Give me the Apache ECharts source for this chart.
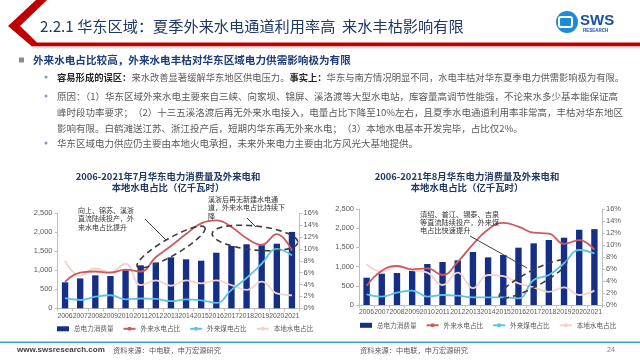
<!DOCTYPE html>
<html><head><meta charset="utf-8">
<script src="https://cdn.jsdelivr.net/npm/echarts@6.0.0/dist/echarts.min.js"></script>
<style>html,body{margin:0;padding:0;background:#fff}#c{width:640px;height:360px}</style>
</head><body><div id="c"></div>
<script>
const years = ['2006','2007','2008','2009','2010','2011','2012','2013','2014','2015','2016','2017','2018','2019','2020','2021'];
const seriesNames = ['总电力消费量','外来水电占比','外来煤电占比','本地水电占比'];
// July
const julTotal      = [684, 785, 868, 850, 1000, 1131, 1205, 1342, 1289, 1253, 1463, 1640, 1685, 1660, 1700, 2010];
const julHydroOut   = [4.45, 6.0, 6.2, 6.0, 6.5, 6.2, 8.6, 10.5, 12.5, 14.3, 14.8, 13.7, 11.8, 10.7, 12.5, 9.7];
const julCoalOut    = [1.7, 1.4, 1.95, 2.2, 1.5, 1.65, 1.6, 1.2, 1.5, 1.35, 0.9, 3.1, 5.1, 7.5, 10.0, 8.9];
const julHydroLocal = [8.0, 5.5, 6.7, 6.1, 7.5, 3.9, 4.7, 3.8, 4.7, 4.2, 4.7, 3.9, 3.1, 4.5, 2.5, 2.2];
// August
const augTotal      = [711, 815, 833, 885, 1068, 1120, 1163, 1380, 1241, 1302, 1493, 1606, 1693, 1753, 1960, 1975];
const augHydroOut   = [3.2, 5.7, 6.5, 5.95, 6.1, 5.0, 7.2, 10.1, 12.6, 13.7, 13.05, 12.05, 11.9, 10.2, 10.8, 9.2];
const augCoalOut    = [1.78, 1.4, 2.05, 2.4, 1.4, 1.67, 1.55, 1.28, 1.28, 1.28, 1.1, 4.17, 5.0, 6.95, 9.17, 8.6];
const augHydroLocal = [6.8, 5.55, 6.5, 5.8, 5.4, 3.33, 5.4, 2.8, 5.0, 4.83, 3.6, 2.95, 2.2, 2.95, 1.67, 2.4];

const CJK = '"Noto Sans CJK SC", sans-serif';
const NUM = '"Liberation Sans", Arial, sans-serif';
const C_BAR = '#152e86', C_RED = '#cf5a5e', C_CYAN = '#5cc3e6', C_PINK = '#f2d2cb';
const axisGray = '#bfbfbf', lblGray = '#595959';

function ell(cx, cy, a, b, deg) {
  const r = deg * Math.PI / 180, pts = [];
  for (let i = 0; i < 90; i++) {
    const t = i / 90 * 2 * Math.PI, x = a * Math.cos(t), y = b * Math.sin(t);
    pts.push([cx + x * Math.cos(r) - y * Math.sin(r), cy + x * Math.sin(r) + y * Math.cos(r)]);
  }
  return pts;
}

function xAx(gi) {
  return { type: 'category', gridIndex: gi, data: years,
    axisLine: { lineStyle: { color: axisGray } },
    axisTick: { show: true, length: 3, lineStyle: { color: axisGray } },
    axisLabel: { interval: 0, fontSize: 6.8, color: lblGray, margin: 4, fontFamily: NUM } };
}
function yAx(gi, right) {
  const base = { type: 'value', gridIndex: gi, min: 0,
    axisLine: { show: true, lineStyle: { color: axisGray } },
    axisTick: { show: true, length: 3, lineStyle: { color: axisGray } },
    splitLine: { show: false },
    axisLabel: { fontSize: 7.5, color: lblGray, margin: right ? 4 : 5, fontFamily: NUM } };
  if (right) { base.position = 'right'; base.max = 16; base.interval = 2; base.axisLabel.formatter = '{value}%'; }
  else { base.max = 2500; base.interval = 500; }
  return base;
}
function lineS(name, data, color, xi, yi, z) {
  return { name, type: 'line', data, xAxisIndex: xi, yAxisIndex: yi, smooth: 0.45, symbol: 'none', z,
    lineStyle: { color, width: 1.8 }, itemStyle: { color } };
}
function legendAt(left, top) {
  return { left, top, padding: 0, itemWidth: 12, itemHeight: 5, itemGap: 9,
    textStyle: { fontSize: 6.6, color: lblGray, fontFamily: CJK },
    data: [{ name: seriesNames[0], icon: 'rect' }, seriesNames[1], seriesNames[2], seriesNames[3]] };
}

const dash = { fill: 'none', stroke: '#3d3d3d', lineWidth: 1.6, lineDash: [6, 4] };
const txt = (text, x, y, font, fill, align) => ({ type: 'text', z: 100,
  style: { text, x, y, font, fill, textAlign: align || 'left', textVerticalAlign: 'middle' } });

const graphics = [
  // header
  { type: 'polygon', z: 90, shape: { points: [[36,0],[47,0],[20,26],[37,42.5],[640,42.5],[640,46.5],[32,46.5],[8,26]] }, style: { fill: '#c00000' } },
  { type: 'rect', z: 90, shape: { x: 32, y: 46.5, width: 608, height: 2 }, style: { fill: '#e3e3e3' } },
  txt('2.2.1 华东区域：夏季外来水电通道利用率高  来水丰枯影响有限', 40, 26, '15.2px ' + CJK, '#1f3864'),
  // logo
  { type: 'circle', z: 100, shape: { cx: 567, cy: 22, r: 11 }, style: { fill: '#1f8ad6' } },
  { type: 'rect', z: 101, shape: { x: 559, y: 17, width: 13, height: 10, r: 2 }, style: { fill: 'none', stroke: '#fff', lineWidth: 2 } },
  txt('SWS', 580, 21, 'bold 15px ' + NUM, '#1b4fa0'),
  txt('RESEARCH', 583, 31, 'bold 4.5px ' + NUM, '#1b4fa0'),
  // bullets
  { type: 'rect', z: 100, shape: { x: 19, y: 57.5, width: 5, height: 5 }, style: { fill: '#8c8c8c' } },
  txt('外来水电占比较高，外来水电丰枯对华东区域电力供需影响极为有限', 33, 60, 'bold 10.6px ' + CJK, '#1f3d7a'),
  { type: 'circle', z: 100, shape: { cx: 46, cy: 77, r: 1.5 }, style: { fill: '#7f9cbf' } },
  { type: 'text', z: 100, style: { x: 57, y: 77, textVerticalAlign: 'middle', font: '9.3px ' + CJK, fill: lblGray,
      text: '{b|容易形成的误区：}来水改善显著缓解华东地区供电压力。{b|事实上：}华东与南方情况明显不同，水电丰枯对华东夏季电力供需影响极为有限。',
      rich: { b: { font: 'bold 9.3px ' + CJK, fill: '#262626' } } } },
  { type: 'circle', z: 100, shape: { cx: 46, cy: 96, r: 1.5 }, style: { fill: '#7f9cbf' } },
  txt('原因：（1）华东区域外来水电主要来自三峡、向家坝、锦屏、溪洛渡等大型水电站，库容量高调节性能强，不论来水多少基本能保证高', 57, 96, '9.5px ' + CJK, lblGray),
  txt('峰时段功率要求；（2）十三五溪洛渡后再无外来水电接入，电量占比下降至10%左右，且夏季水电通道利用率非常高，丰枯对华东地区', 57, 112, '9.5px ' + CJK, lblGray),
  txt('影响有限。白鹤滩送江苏、浙江投产后，短期内华东再无外来水电；（3）本地水电基本开发完毕，占比仅2%。', 57, 128, '9.5px ' + CJK, lblGray),
  { type: 'circle', z: 100, shape: { cx: 46, cy: 143, r: 1.5 }, style: { fill: '#7f9cbf' } },
  txt('华东区域电力供应仍主要由本地火电承担，未来外来电力主要由北方风光大基地提供。', 57, 143, '9.5px ' + CJK, lblGray),
  // chart titles
  txt('2006-2021年7月华东电力消费量及外来电和', 168, 176, 'bold 9.4px ' + CJK, '#1f3864', 'center'),
  txt('本地水电占比（亿千瓦时）', 168, 187, 'bold 9.4px ' + CJK, '#1f3864', 'center'),
  txt('2006-2021年8月华东电力消费量及外来电和', 467, 176, 'bold 9.4px ' + CJK, '#1f3864', 'center'),
  txt('本地水电占比（亿千瓦时）', 467, 187, 'bold 9.4px ' + CJK, '#1f3864', 'center'),
  // left annotations
  txt('向上、锦苏、溪浙', 78, 210, '7px ' + CJK, '#333'),
  txt('直流陆续投产，外', 78, 218.5, '7px ' + CJK, '#333'),
  txt('来水电占比提升', 78, 227, '7px ' + CJK, '#333'),
  { type: 'line', z: 100, shape: { x1: 145, y1: 219, x2: 166, y2: 240 }, style: { stroke: '#404040', lineWidth: 1 } },
  { type: 'polygon', z: 100, shape: { points: ell(171, 247, 39, 8.5, -30) }, style: dash },
  txt('溪浙后再无新建水电通', 208, 199, '7px ' + CJK, '#333'),
  txt('道，外来水电占比持续下', 208, 207.5, '7px ' + CJK, '#333'),
  txt('降', 208, 216, '7px ' + CJK, '#333'),
  { type: 'line', z: 100, shape: { x1: 247, y1: 218, x2: 256, y2: 227 }, style: { stroke: '#404040', lineWidth: 1 } },
  { type: 'polygon', z: 100, shape: { points: ell(255, 238, 43, 12, 6) }, style: dash },
  // right annotations
  txt('滇绍、普江、锡泰、吉泉', 420, 214, '7.2px ' + CJK, '#333'),
  txt('等直流陆续投产，外来煤', 420, 222, '7.2px ' + CJK, '#333'),
  txt('电占比快速提升', 420, 230, '7.2px ' + CJK, '#333'),
  { type: 'line', z: 100, shape: { x1: 470, y1: 236, x2: 527, y2: 268 }, style: { stroke: '#404040', lineWidth: 1 } },
  { type: 'polygon', z: 100, shape: { points: ell(533, 279, 38, 8, -28) }, style: dash },
  // footer
  { type: 'rect', z: 100, shape: { x: 0, y: 341.5, width: 640, height: 1.5 }, style: { fill: '#3a9bd5' } },
  txt('www.swsresearch.com', 17, 350, 'bold 8px ' + NUM, '#404040'),
  txt('资料来源：中电联，申万宏源研究', 113, 350, '7.2px ' + CJK, lblGray),
  txt('资料来源：中电联，申万宏源研究', 360, 350, '7.2px ' + CJK, lblGray),
  txt('24', 607, 350, '7px ' + NUM, '#7f7f7f')
];

const option = {
  animation: false,
  backgroundColor: '#fff',
  textStyle: { fontFamily: CJK },
  grid: [
    { left: 57.5, right: 340.5, top: 213.3, bottom: 51.7 },
    { left: 359, right: 38, top: 209, bottom: 55 }
  ],
  xAxis: [xAx(0), xAx(1)],
  yAxis: [yAx(0, false), yAx(0, true), yAx(1, false), yAx(1, true)],
  legend: [legendAt(57, 325.5), legendAt(360, 322)],
  series: [
    { name: seriesNames[0], type: 'bar', data: julTotal, xAxisIndex: 0, yAxisIndex: 0, barWidth: '42%', itemStyle: { color: C_BAR }, z: 2 },
    lineS(seriesNames[3], julHydroLocal, C_PINK, 0, 1, 3),
    lineS(seriesNames[2], julCoalOut, C_CYAN, 0, 1, 4),
    lineS(seriesNames[1], julHydroOut, C_RED, 0, 1, 5),
    { name: seriesNames[0], type: 'bar', data: augTotal, xAxisIndex: 1, yAxisIndex: 2, barWidth: '42%', itemStyle: { color: C_BAR }, z: 2 },
    lineS(seriesNames[3], augHydroLocal, C_PINK, 1, 3, 3),
    lineS(seriesNames[2], augCoalOut, C_CYAN, 1, 3, 4),
    lineS(seriesNames[1], augHydroOut, C_RED, 1, 3, 5)
  ],
  graphic: { elements: graphics }
};
const chart = echarts.init(document.getElementById('c'), null, { renderer: 'canvas' });
chart.setOption(option);
</script></body></html>
